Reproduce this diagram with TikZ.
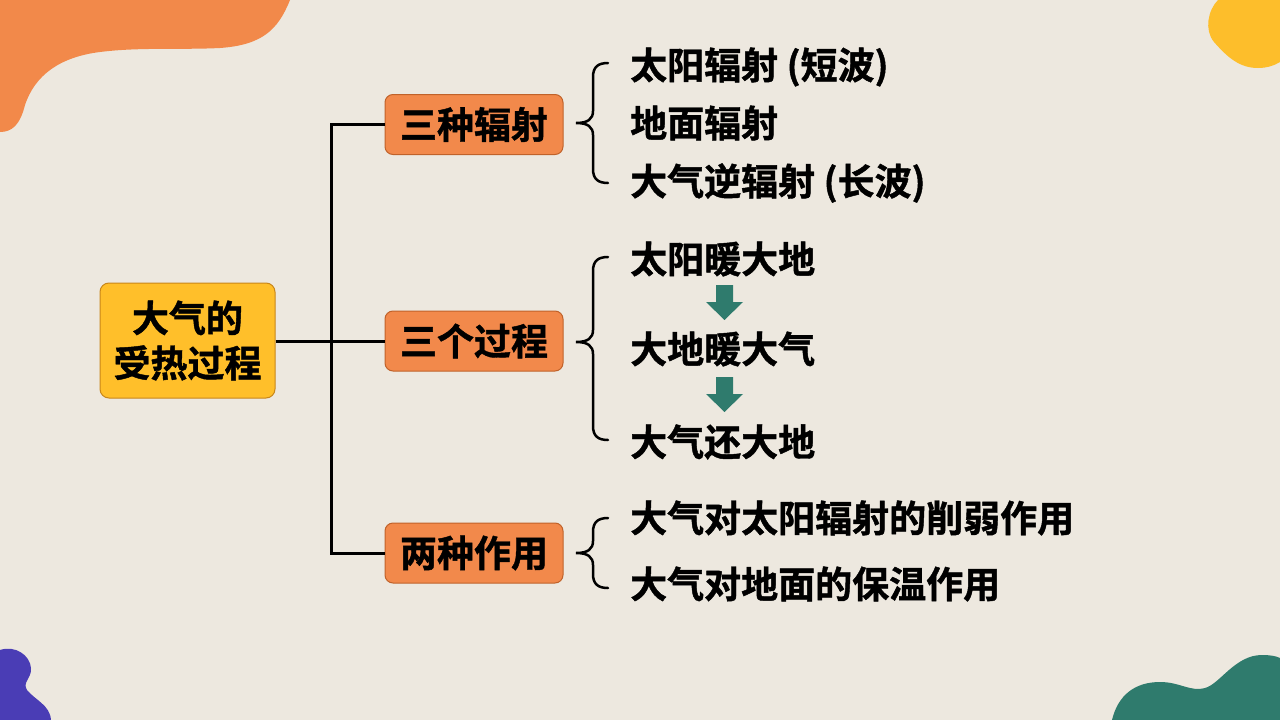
\documentclass[tikz,border=0pt]{standalone}
\usepackage{fontspec}
\setmainfont{Noto Sans CJK SC}[BoldFont={Noto Sans CJK SC Bold}, BoldFeatures={FakeBold=1.2}]
\definecolor{bg}{HTML}{EDE8DF}
\definecolor{bloborange}{HTML}{F2894A}
\definecolor{blobyellow}{HTML}{FDBE2B}
\definecolor{blobblue}{HTML}{4A3DB5}
\definecolor{blobgreen}{HTML}{2F7B6D}
\definecolor{boxorange}{HTML}{F2894B}
\definecolor{boxorangeedge}{HTML}{C0622A}
\definecolor{boxyellow}{HTML}{FFBF2A}
\definecolor{boxyellowedge}{HTML}{C8861A}
\definecolor{arrowgreen}{HTML}{2F7B6D}
\newcommand\drawbrace[3]{\draw[bracestyle] (608,#1) .. controls (598,#1) and (593,#1+4) .. (593,#1+14) -- (593,#2-12) .. controls (593,#2-4) and (588,#2) .. (576,#2) .. controls (588,#2) and (593,#2+4) .. (593,#2+12) -- (593,#3-14) .. controls (593,#3-4) and (598,#3) .. (608,#3);}
\newcommand\downarrowshape[1]{\fill[arrowgreen] (716,#1) -- (733,#1) -- (733,#1+17) -- (743,#1+17) -- (724.5,#1+35) -- (706,#1+17) -- (716,#1+17) -- cycle;}
\begin{document}
\begin{tikzpicture}[x=1pt,y=-1pt,
  txt/.style={font=\bfseries\fontsize{37}{45}\selectfont, text=black},
  mainbox/.style={txt, draw=boxyellowedge, fill=boxyellow, line width=1pt, rounded corners=9pt, minimum width=175pt, minimum height=115pt, inner sep=0pt, align=center},
  subbox/.style={txt, draw=boxorangeedge, fill=boxorange, line width=1pt, rounded corners=8pt, minimum width=178pt, minimum height=60pt, inner sep=0pt},
  item/.style={txt, anchor=west, inner sep=0pt},
  trunk/.style={line width=3pt, black},
  bracestyle/.style={line width=2.5pt, black, line cap=round}]
\useasboundingbox (0,0) rectangle (1280,720);
\fill[bg] (0,0) rectangle (1280,720);
% corner blobs
\fill[bloborange] (0,0) -- (290,0) .. controls (278,30) and (262,45) .. (220,48) .. controls (180,50) and (140,47) .. (100,52) .. controls (60,57) and (35,75) .. (25,105) .. controls (20,125) and (12,132) .. (0,132) -- cycle;
\fill[blobyellow] (1218,0) .. controls (1208,10) and (1204,30) .. (1214,42) .. controls (1228,58) and (1240,68) .. (1258,68) .. controls (1268,68) and (1275,65) .. (1280,62) -- (1280,0) -- cycle;
\fill[blobblue] (0,650) .. controls (15,645) and (30,655) .. (31,668) .. controls (32,678) and (22,682) .. (27,690) .. controls (35,700) and (50,705) .. (51,720) -- (0,720) -- cycle;
\fill[blobgreen] (1112,720) .. controls (1118,695) and (1135,682) .. (1160,682) .. controls (1180,682) and (1190,692) .. (1205,688) .. controls (1220,684) and (1235,655) .. (1262,655) .. controls (1270,655) and (1276,656) .. (1280,658) -- (1280,720) -- cycle;
% nodes
\node[mainbox] (root) at (187.5,340.5) {大气的\\受热过程};
\node[subbox] (b1) at (474,124.5) {三种辐射};
\node[subbox] (b2) at (474,341) {三个过程};
\node[subbox] (b3) at (474,553) {两种作用};
\coordinate (j) at (331,341);
\draw[trunk] (root.east |- b2.west) -- (b2.west);
\draw[trunk] (b1.west) -| (j) |- (b3.west);
% items
\node[item] (r1) at (630,67) {太阳辐射 (短波)};
\node[item] (r2) at (630,123) {地面辐射};
\node[item] (r3) at (630,183) {大气逆辐射 (长波)};
\node[item] (p1) at (630,259) {太阳暖大地};
\node[item] (p2) at (630,349) {大地暖大气};
\node[item] (p3) at (630,442) {大气还大地};
\node[item] (e1) at (630,518) {大气对太阳辐射的削弱作用};
\node[item] (e2) at (630,584) {大气对地面的保温作用};
% braces
\drawbrace{63}{123}{183}
\drawbrace{257}{342}{440}
\drawbrace{518}{553}{588}
% process arrows
\downarrowshape{285}
\downarrowshape{377}
\end{tikzpicture}
\end{document}
